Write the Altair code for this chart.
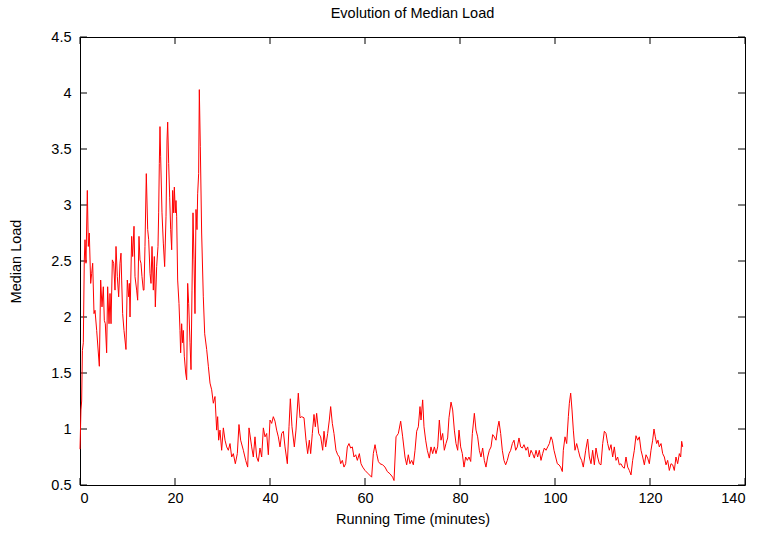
import altair as alt
import pandas as pd

# Running time (minutes)
time_min = [
    0.00, 0.20, 0.35, 0.50, 0.70, 0.90, 1.05, 1.26, 1.54, 1.75, 1.96, 2.25, 2.46, 2.67, 2.95, 3.16, 3.51,
    4.07, 4.35, 4.63, 4.91, 5.12, 5.33, 5.61, 5.82, 6.11, 6.32, 6.53, 6.81, 7.09, 7.37, 7.58, 7.86,
    8.14, 8.42, 8.63, 8.77, 8.98, 9.26, 9.68, 9.96, 10.25, 10.39, 10.53, 10.88, 11.09, 11.37, 11.58,
    11.93, 12.14, 12.42, 12.63, 12.84, 13.05, 13.33, 13.47, 13.68, 13.96, 14.25, 14.46, 14.74, 14.95,
    15.16, 15.44, 15.65, 15.86, 16.14, 16.42, 16.56, 16.70, 16.84, 16.98, 17.26, 17.54, 17.82, 18.11,
    18.32, 18.46, 18.67, 18.88, 19.09, 19.30, 19.51, 19.72, 19.86, 20.07, 20.21, 20.35, 20.56, 20.84,
    21.05, 21.19, 21.40, 21.61, 21.75, 21.96, 22.25, 22.46, 22.67, 22.88, 23.16, 23.37, 23.58, 23.79,
    24.00, 24.21, 24.42, 24.63, 24.77, 24.98, 25.12, 25.33, 25.61, 25.96, 26.25, 26.67, 27.02, 27.37,
    27.72, 28.07, 28.42, 28.77, 28.98, 29.19, 29.47, 29.82, 30.18, 30.53, 30.88, 31.23, 31.58, 31.93,
    32.28, 32.70, 33.12, 33.47, 33.82, 34.39, 34.88, 35.30,
    35.58, 36.14, 36.49, 36.84, 37.19, 37.54, 37.89, 38.25, 38.60, 38.95, 39.30, 39.65, 40.00, 40.35,
    40.70, 41.05, 41.40, 41.75, 42.11, 42.46, 42.81, 43.16, 43.65, 44.00, 44.28, 44.63, 45.12, 45.47,
    45.96, 46.32, 46.67, 47.16, 47.58, 47.93, 48.28, 48.56, 48.91, 49.26, 49.54, 49.82, 50.25, 50.67,
    51.09, 51.37, 51.72, 52.14, 52.49, 52.77, 53.12, 53.47, 53.89, 54.25, 54.60, 54.88, 55.23, 55.58,
    55.93, 56.28, 56.63, 56.98, 57.33, 57.68, 58.04, 58.39, 58.81, 59.16, 59.51, 60.00, 60.70, 61.40,
    61.75, 62.11, 62.46, 62.81, 63.16, 63.72, 64.21, 64.70, 65.26, 65.82, 66.11,
    66.53, 67.02, 67.51, 67.93, 68.42, 68.77, 69.12, 69.47, 69.82, 70.18, 70.53, 70.88, 71.23, 71.58,
    71.79, 72.14, 72.42, 72.77, 73.12, 73.54, 73.89, 74.25, 74.60, 74.95, 75.30, 75.65, 76.00, 76.35,
    76.70, 77.05, 77.40, 77.68, 78.11, 78.46, 78.81, 79.16, 79.51, 79.79, 80.14, 80.49, 80.84, 81.19,
    81.54, 81.89, 82.25, 82.60, 83.02, 83.37, 83.72, 84.07, 84.42, 84.77, 85.12, 85.47, 85.82, 86.18,
    86.53, 86.88, 87.23, 87.58, 87.93, 88.21, 88.56, 88.91, 89.26, 89.61, 89.96, 90.32, 90.67, 91.02,
    91.37, 91.72, 92.07, 92.42, 92.77, 93.12, 93.47, 93.89, 94.25, 94.60, 94.95, 95.30, 95.65, 96.00,
    96.35, 96.70, 97.05, 97.40, 97.75, 98.11, 98.46, 98.81, 99.16, 99.44, 99.79, 100.14, 100.49,
    100.84, 101.19, 101.54, 101.75, 102.11, 102.46, 102.81, 103.02, 103.30, 103.58, 103.86, 104.21,
    104.56, 104.91, 105.26, 105.61, 105.96, 106.46, 106.88, 107.23, 107.58, 107.93, 108.28, 108.63,
    108.98, 109.33, 109.68, 110.04, 110.39, 110.74, 111.09, 111.44, 111.79, 112.14, 112.49, 112.84,
    113.19, 113.54, 113.89, 114.25, 114.60, 114.95, 115.30, 115.65, 116.00, 116.35, 116.70, 117.05,
    117.40, 117.75, 118.11, 118.46, 118.81, 119.16, 119.51, 119.86, 120.21, 120.56, 120.84, 121.12,
    121.40, 121.68, 121.96, 122.32, 122.67, 123.02, 123.37, 123.72, 124.07, 124.42, 124.77, 125.12,
    125.47, 125.82, 126.18, 126.46, 126.67, 126.88,
]

# Median load
median_load = [
    0.82, 1.17, 1.25, 1.70, 1.77, 2.50, 2.69, 2.48, 3.13, 2.63, 2.75, 2.30, 2.39, 2.48, 2.03, 2.06, 1.88,
    1.56, 2.33, 2.09, 2.27, 1.97, 1.94, 1.68, 2.27, 1.94, 2.21, 1.94, 2.51, 2.48, 2.24, 2.63, 2.36,
    2.18, 2.48, 2.57, 2.33, 2.03, 1.88, 1.71, 2.33, 2.18, 2.30, 2.00, 2.72, 2.54, 2.81, 2.36,
    2.24, 2.15, 2.72, 2.51, 2.48, 2.36, 2.24, 2.24, 2.63, 3.28, 2.78, 2.69, 2.39, 2.30,
    2.63, 2.24, 2.54, 2.09, 2.45, 2.63, 2.93, 3.37, 3.70, 3.43, 2.93, 2.66, 2.45, 2.90,
    3.58, 3.74, 3.37, 3.07, 2.78, 2.60, 3.13, 2.93, 3.16, 2.93, 3.04, 2.90, 2.33, 2.12,
    1.88, 1.68, 1.94, 1.77, 1.88, 1.65, 1.50, 1.44, 2.30, 2.12, 1.77, 1.53, 2.24, 2.93,
    2.51, 2.03, 2.96, 2.78, 3.10, 3.28, 4.03, 3.52, 2.75, 2.18, 1.85, 1.71, 1.56, 1.41,
    1.35, 1.23, 1.29, 0.99, 1.11, 0.90, 0.99, 0.81, 1.01, 0.90, 0.84, 0.81, 0.87, 0.75,
    0.78, 0.69, 0.78, 1.04, 0.90, 0.81, 0.72, 0.66,
    1.01, 0.84, 0.75, 0.93, 0.75, 0.71, 0.83, 0.75, 1.01, 0.93, 0.96, 0.77, 1.08, 1.05,
    1.11, 1.07, 0.99, 0.93, 0.84, 0.96, 0.98, 0.84, 0.69, 1.02, 1.27, 1.02, 0.84, 0.99,
    1.32, 1.10, 1.11, 1.10, 0.90, 0.78, 0.90, 0.78, 0.96, 1.13, 1.02, 1.14, 0.96, 0.93,
    0.81, 0.98, 0.84, 0.96, 1.08, 1.20, 1.05, 0.96, 0.81, 0.77, 0.75, 0.69, 0.72, 0.66,
    0.69, 0.84, 0.87, 0.83, 0.84, 0.75, 0.77, 0.72, 0.78, 0.69, 0.66, 0.63, 0.60, 0.57,
    0.78, 0.86, 0.78, 0.71, 0.69, 0.68, 0.66, 0.62, 0.60, 0.57, 0.54,
    0.93, 0.96, 1.07, 0.93, 0.75, 0.68, 0.77, 0.69, 0.72, 0.68, 0.81, 0.98, 1.02, 1.20,
    1.08, 1.26, 1.02, 0.90, 0.81, 0.74, 0.84, 0.78, 0.84, 0.78, 0.84, 1.08, 0.90, 0.96,
    0.81, 0.87, 0.92, 1.10, 1.24, 1.17, 0.99, 0.87, 0.81, 0.99, 0.84, 0.78, 0.66, 0.75,
    0.72, 0.75, 0.71, 0.96, 1.14, 0.99, 0.93, 0.81, 0.75, 0.83, 0.72, 0.66, 0.75, 0.81,
    0.84, 0.95, 0.93, 0.90, 1.01, 1.07, 0.96, 0.81, 0.72, 0.68, 0.72, 0.78, 0.81, 0.87,
    0.90, 0.81, 0.84, 0.92, 0.84, 0.83, 0.86, 0.81, 0.84, 0.75, 0.81, 0.78, 0.74, 0.81,
    0.75, 0.81, 0.72, 0.78, 0.83, 0.81, 0.84, 0.87, 0.93, 0.90, 0.81, 0.75, 0.69,
    0.68, 0.66, 0.62, 0.81, 0.93, 0.87, 1.11, 1.23, 1.32, 1.17, 0.99, 0.81,
    0.87, 0.81, 0.75, 0.72, 0.66, 0.81, 0.91, 0.75, 0.69, 0.81, 0.68, 0.83,
    0.75, 0.69, 0.68, 0.87, 0.98, 0.96, 0.87, 0.81, 0.86, 0.75, 0.84, 0.72,
    0.75, 0.68, 0.69, 0.66, 0.65, 0.75, 0.66, 0.63, 0.59, 0.72, 0.81, 0.94,
    0.90, 0.93, 0.81, 0.75, 0.68, 0.77, 0.74, 0.69, 0.81, 0.90, 1.00, 0.93,
    0.87, 0.90, 0.84, 0.87, 0.78, 0.75, 0.68, 0.72, 0.63, 0.69, 0.68, 0.63,
    0.75, 0.69, 0.78, 0.75, 0.89, 0.84,
]

x_ticks = [0, 20, 40, 60, 80, 100, 120, 140]
y_ticks = [0.5, 1, 1.5, 2, 2.5, 3, 3.5, 4, 4.5]

W, H = 665, 448
FONT = "Liberation Sans"
FS = 14.5

df = pd.DataFrame({"t": time_min, "load": median_load})
xt = pd.DataFrame({"v": x_ticks})
yt = pd.DataFrame({"v": y_ticks})

xscale = alt.Scale(domain=[0, 140], nice=False, zero=False)
yscale = alt.Scale(domain=[0.5, 4.5], nice=False, zero=False)

line = alt.Chart(df).mark_line(color="#ff0000", strokeWidth=1).encode(
    x=alt.X("t:Q", scale=xscale,
            axis=alt.Axis(title="Running Time (minutes)", values=x_ticks, format="d",
                          domain=False, ticks=False, grid=False, labelPadding=6,
                          titlePadding=8)),
    y=alt.Y("load:Q", scale=yscale,
            axis=alt.Axis(title="Median Load", values=y_ticks, format="~g",
                          domain=False, ticks=False, grid=False, labelPadding=9,
                          titlePadding=27)),
)

tk = 7
xb = alt.Chart(xt).mark_rule(color="black", strokeWidth=1).encode(
    x=alt.X("v:Q", scale=xscale), y=alt.value(H), y2=alt.value(H - tk))
xtop = alt.Chart(xt).mark_rule(color="black", strokeWidth=1).encode(
    x=alt.X("v:Q", scale=xscale), y=alt.value(0), y2=alt.value(tk))
yl = alt.Chart(yt).mark_rule(color="black", strokeWidth=1).encode(
    y=alt.Y("v:Q", scale=yscale), x=alt.value(0), x2=alt.value(tk))
yr = alt.Chart(yt).mark_rule(color="black", strokeWidth=1).encode(
    y=alt.Y("v:Q", scale=yscale), x=alt.value(W), x2=alt.value(W - tk))

chart = alt.layer(xb, xtop, yl, yr, line).properties(
    width=W, height=H,
    title=alt.TitleParams("Evolution of Median Load", fontSize=FS, font=FONT,
                          fontWeight="normal", color="black", offset=8),
    autosize=alt.AutoSizeParams(type="none"),
    padding={"left": 80, "top": 37, "right": 17, "bottom": 48},
).configure_view(
    stroke="black", strokeWidth=1
).configure_axis(
    labelFont=FONT, titleFont=FONT, labelFontSize=FS, titleFontSize=FS,
    labelColor="black", titleColor="black", titleFontWeight="normal"
)

chart.save("out.html", embed_options={"renderer": "svg", "actions": False})
